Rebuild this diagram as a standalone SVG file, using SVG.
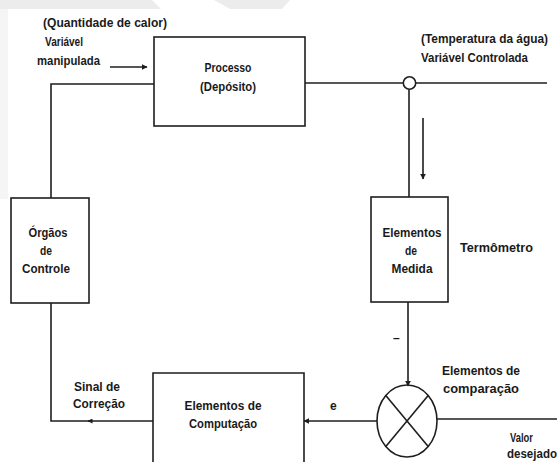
<svg xmlns="http://www.w3.org/2000/svg" width="558" height="462" viewBox="0 0 558 462">
<defs>
<style>
.bg{fill:#fff}
.wm{fill:#ececec}
.box{fill:none;stroke:#1e1e1e;stroke-width:1.6}
.ln{fill:none;stroke:#1e1e1e;stroke-width:1.6}
.t{font-family:"Liberation Sans",Arial,sans-serif;font-size:12px;font-weight:bold;fill:#1a1a1a}
.m{text-anchor:middle}
</style>
<marker id="ah" viewBox="0 0 10 10" refX="9" refY="5" markerWidth="6" markerHeight="6" markerUnits="userSpaceOnUse" orient="auto">
<path d="M0,0 L10,5 L0,10 Z" fill="#1e1e1e"/>
</marker>
<marker id="ahs" viewBox="0 0 10 10" refX="9" refY="5" markerWidth="5" markerHeight="5" markerUnits="userSpaceOnUse" orient="auto">
<path d="M0,0 L10,5 L0,10 Z" fill="#1e1e1e"/>
</marker>
</defs>
<rect class="bg" x="0" y="0" width="558" height="462"/>
<polygon class="wm" points="0,0 152,0 161,9 0,9"/>
<polygon class="wm" points="214,0 290,0 282,9 230,9"/>
<rect class="wm" x="0" y="9" width="8" height="190" opacity="0.5"/>

<g id="connectors">
<line class="ln" x1="305" y1="83" x2="403" y2="83"/>
<circle class="ln" cx="409.5" cy="83" r="6.2" fill="#fff"/>
<line class="ln" x1="415.7" y1="83" x2="547" y2="83"/>
<line class="ln" x1="409" y1="89.2" x2="409" y2="197"/>
<line class="ln" x1="408" y1="302" x2="408" y2="386" marker-end="url(#ah)"/>
<line class="ln" x1="377" y1="421" x2="304" y2="421" marker-end="url(#ah)"/>
<line class="ln" x1="437" y1="419" x2="557" y2="419"/>
<line class="ln" x1="153" y1="421" x2="88" y2="421" marker-end="url(#ahs)"/>
<polyline class="ln" points="90,421 51,421 51,303"/>
<polyline class="ln" points="51,198 51,84 154,84"/>
<line class="ln" x1="110" y1="67" x2="147" y2="67" marker-end="url(#ah)"/>
<line class="ln" x1="423" y1="118" x2="423" y2="179" marker-end="url(#ah)"/>
</g>

<g id="processo">
<rect class="box" x="154" y="37" width="151" height="89"/>
<text class="t m" x="228" y="72" textLength="47" lengthAdjust="spacingAndGlyphs">Processo</text>
<text class="t m" x="228" y="91" textLength="56" lengthAdjust="spacingAndGlyphs">(Depósito)</text>
</g>

<g id="orgaos">
<rect class="box" x="11" y="198" width="78" height="105"/>
<text class="t m" x="48" y="237" textLength="39" lengthAdjust="spacingAndGlyphs">Órgãos</text>
<text class="t m" x="46" y="255" textLength="12" lengthAdjust="spacingAndGlyphs">de</text>
<text class="t m" x="46" y="273" textLength="48" lengthAdjust="spacingAndGlyphs">Controle</text>
</g>

<g id="medida">
<rect class="box" x="371" y="197" width="77" height="105"/>
<text class="t m" x="412" y="237" textLength="59" lengthAdjust="spacingAndGlyphs">Elementos</text>
<text class="t m" x="411" y="255" textLength="12" lengthAdjust="spacingAndGlyphs">de</text>
<text class="t m" x="412" y="273" textLength="41" lengthAdjust="spacingAndGlyphs">Medida</text>
</g>

<g id="computacao">
<path class="box" d="M153,470 V373 H304 V470"/>
<text class="t m" x="223" y="410" textLength="77" lengthAdjust="spacingAndGlyphs">Elementos de</text>
<text class="t m" x="223" y="428" textLength="68" lengthAdjust="spacingAndGlyphs">Computação</text>
</g>

<g id="comparacao">
<ellipse class="ln" cx="407" cy="421" rx="30" ry="36"/>
<line class="ln" x1="385.8" y1="395.5" x2="428.2" y2="446.5"/>
<line class="ln" x1="428.2" y1="395.5" x2="385.8" y2="446.5"/>
</g>

<g id="labels">
<text class="t" x="43" y="27" textLength="124" lengthAdjust="spacingAndGlyphs">(Quantidade de calor)</text>
<text class="t" x="45" y="46" textLength="38" lengthAdjust="spacingAndGlyphs">Variável</text>
<text class="t" x="37" y="65" textLength="63" lengthAdjust="spacingAndGlyphs">manipulada</text>
<text class="t" x="421" y="43" textLength="127" lengthAdjust="spacingAndGlyphs">(Temperatura da água)</text>
<text class="t" x="421" y="62" textLength="107" lengthAdjust="spacingAndGlyphs">Variável Controlada</text>
<text class="t" x="460" y="252" textLength="73" lengthAdjust="spacingAndGlyphs">Termômetro</text>
<text class="t m" x="97" y="391" textLength="46" lengthAdjust="spacingAndGlyphs">Sinal de</text>
<text class="t m" x="99" y="408" textLength="52" lengthAdjust="spacingAndGlyphs">Correção</text>
<text class="t" x="330" y="410">e</text>
<text class="t" x="393" y="342">–</text>
<text class="t" x="442" y="375" textLength="78" lengthAdjust="spacingAndGlyphs">Elementos de</text>
<text class="t" x="443" y="393" textLength="76" lengthAdjust="spacingAndGlyphs">comparação</text>
<text class="t" x="510" y="442" textLength="23" lengthAdjust="spacingAndGlyphs">Valor</text>
<text class="t" x="507" y="458" textLength="50" lengthAdjust="spacingAndGlyphs">desejado</text>
</g>
</svg>
